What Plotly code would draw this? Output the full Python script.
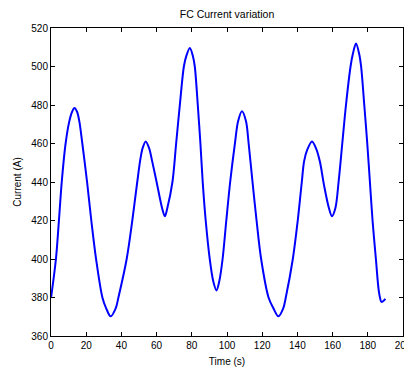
import plotly.graph_objects as go

# Time (s) and FC current (A)
time_s = [0, 2.8, 4.5, 6.1, 8.3, 10.4, 12, 13.3, 14.8, 16.1, 17.8, 20.5, 22.9, 25.6, 29.2,
          31.3, 33.9, 36.8, 38.3, 43, 46.2, 49, 50.8, 52.1, 53.8, 55.7, 57.5, 60, 63.1,
          64.7, 66.1, 69, 71.1, 73.2, 75.5, 76.9, 78.9, 80.6, 81.7, 83.4, 84.9, 86.2, 87.9,
          90.2, 92.2, 94, 95.6, 97.5, 99.6, 101.8, 104.5, 106.3, 108.5, 110.8, 112.3, 114.5,
          116.8, 119.4, 123.6, 126.3, 129.2, 132.0, 133.4, 137.4, 140.2, 142.5, 143.8, 145.6,
          148.3, 150.8, 152.8, 155.2, 157.9, 159.6, 161.6, 163.4, 165.5, 167.6, 170.2, 171.5,
          173.3, 175.1, 176.2, 178, 179.7, 181.2, 182.7, 184.6, 186.4, 187.8, 189.2, 189.9]
current_a = [379.7, 400, 420, 440, 460, 471.5, 476.5, 478.4, 476.5, 471.5, 460, 440, 420, 400, 380,
             374.5, 370.2, 374.5, 380, 400, 420, 440, 452, 457.7, 461.1, 457.7, 450.7, 440, 426.5,
             422.2, 426.5, 440, 460, 480, 500, 505.5, 509.6, 505.5, 500, 480, 460, 440, 420,
             400, 388.4, 383.7, 388.4, 400, 420, 440, 460, 471.5, 476.7, 471.5, 460, 440,
             420, 400, 380, 374.5, 370.2, 374.5, 380, 400, 420, 440, 450.7, 456.8,
             461.1, 457, 450.5, 438, 426.5, 422.2, 426.5, 440, 460, 480, 500, 506.5,
             511.9, 506.5, 500, 480, 460, 440, 420, 400, 382.5, 377.7, 378.5, 379.4]

x_ticks = list(range(0, 201, 20))
y_ticks = list(range(360, 521, 20))

fig = go.Figure()
fig.add_trace(go.Scatter(
    x=time_s, y=current_a, mode="lines",
    line=dict(color="#0000FF", width=2, shape="spline", smoothing=0.9),
    showlegend=False, hoverinfo="skip"))

font = dict(family="Arial, Liberation Sans, sans-serif", size=10, color="#000000")

axis_common = dict(
    showline=True, linecolor="#000000", linewidth=1, mirror="ticks",
    ticks="inside", ticklen=4, tickwidth=1, tickcolor="#000000",
    showgrid=False, zeroline=False, tickfont=font, automargin=False,
)

# the page body adds an 8px offset, so the figure is sized to the remaining area
W, H = 404, 364
fig.update_layout(
    width=W, height=H,
    margin=dict(l=43, r=9, t=20, b=36, autoexpand=False),
    paper_bgcolor="white", plot_bgcolor="white",
    font=font,
    title=dict(text="FC Current variation", x=0.5, xanchor="center", xref="paper",
               y=1 - 6 / H, yanchor="middle", yref="container",
               font=dict(size=10.5, family=font["family"], color="#000")),
    xaxis=dict(range=[0, 200], tickvals=x_ticks, ticktext=[str(v) for v in x_ticks],
               title=dict(text="Time (s)", standoff=7, font=font), **axis_common),
    yaxis=dict(range=[360, 520], tickvals=y_ticks, ticktext=[str(v) for v in y_ticks],
               title=dict(text="Current (A)", standoff=7, font=font), **axis_common),
)

fig.write_html("out.html")
